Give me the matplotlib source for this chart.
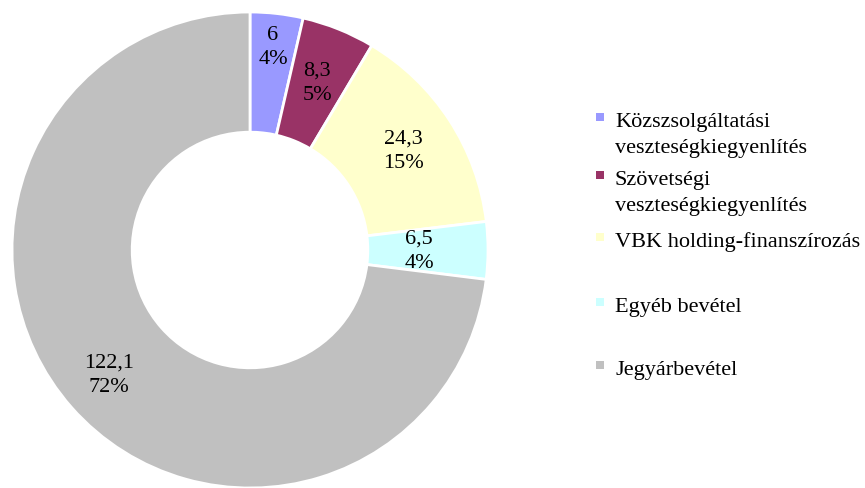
import numpy as np
import matplotlib.pyplot as plt
from matplotlib.patches import Rectangle

# data
categories = ['Közszsolgáltatási\nveszteségkiegyenlítés',
              'Szövetségi\nveszteségkiegyenlítés',
              'VBK holding-finanszírozás',
              'Egyéb bevétel',
              'Jegyárbevétel']
values = [6, 8.3, 24.3, 6.5, 122.1]
value_labels = ['6', '8,3', '24,3', '6,5', '122,1']
pct_labels = ['4%', '5%', '15%', '4%', '72%']

colors = ['#9999FF', '#993366', '#FFFFCC', '#CCFFFF', '#C0C0C0']
label_r = [0.86, 0.76, 0.77, 0.71, 0.79]

plt.rcParams['font.family'] = ['Liberation Serif', 'DejaVu Serif']

fig = plt.figure(figsize=(8.65, 4.89), dpi=100)
ax = fig.add_axes([12 / 865, 0, 476 / 865, 476 / 489])

wedges, _ = ax.pie(values, colors=colors, startangle=90, counterclock=False,
                   radius=1.0, wedgeprops=dict(width=0.505, edgecolor='white', linewidth=2))

for w, v, p, r in zip(wedges, value_labels, pct_labels, label_r):
    ang = np.deg2rad((w.theta1 + w.theta2) / 2)
    ax.text(r * np.cos(ang), r * np.sin(ang), v + '\n' + p, ha='center', va='center',
            fontsize=16, linespacing=1.36)

ax.set_xlim(-1, 1)
ax.set_ylim(-1, 1)
ax.set_aspect('equal')
ax.axis('off')

# legend drawn by hand to match the uneven spacing of the original
baselines = [127, 185, 247, 312, 375]
for lab, col, yb in zip(categories, colors, baselines):
    fig.patches.append(Rectangle((596 / 865, 1 - (yb - 5) / 489), 8 / 865, 8 / 489,
                                 transform=fig.transFigure, facecolor=col, edgecolor='none'))
    fig.text(615 / 865, 1 - yb / 489, lab.split('\n')[0], fontsize=16, va='baseline', ha='left')
    if '\n' in lab:
        fig.text(615 / 865, 1 - (yb + 26) / 489, lab.split('\n')[1], fontsize=16,
                 va='baseline', ha='left')

fig.savefig('out.png', dpi=100)
